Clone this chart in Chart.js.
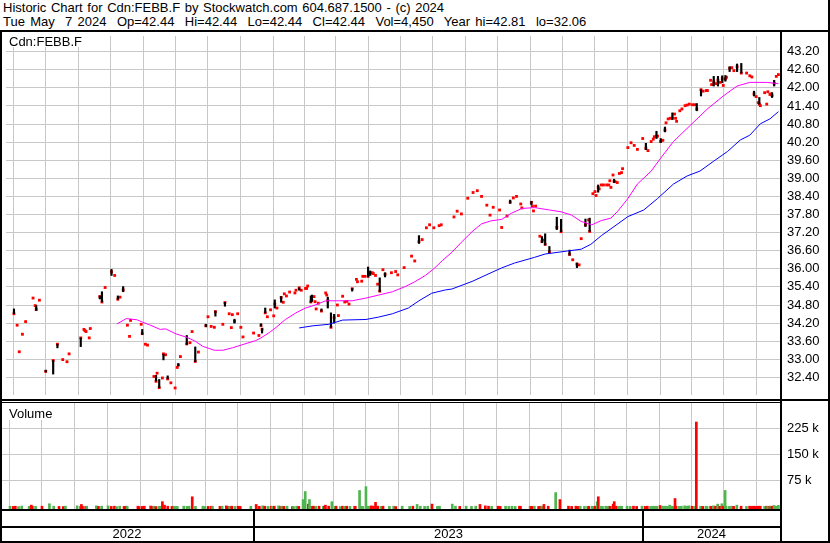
<!DOCTYPE html>
<html>
<head>
<meta charset="utf-8">
<title>Cdn:FEBB.F historic chart</title>
<script src="https://cdn.jsdelivr.net/npm/chart.js@4.4.1/dist/chart.umd.min.js"></script>
<style>
  body { margin: 0; width: 830px; height: 543px; position: relative; overflow: hidden; background: #fff;
         font-family: "Liberation Sans", Arial, sans-serif; font-size: 13px; color: #000; }
  canvas, .rule, .label { position: absolute; }
  .rule { background: #000; }
  .label { background: #fff; white-space: pre; }
</style>
</head>
<body>
<div class="label" style="left:3px;top:1px;line-height:14px;background:none;word-spacing:1px">Historic Chart for Cdn:FEBB.F by Stockwatch.com 604.687.1500 - (c) 2024</div>
<div class="label" style="left:3px;top:15px;line-height:14px;background:none;word-spacing:1.6px">Tue May  7 2024  Op=42.44  Hi=42.44  Lo=42.44  Cl=42.44  Vol=4,450  Year hi=42.81  lo=32.06</div>

<canvas id="price" width="826" height="367" style="left:2px;top:32px"></canvas>
<canvas id="volume" width="826" height="140" style="left:2px;top:403px"></canvas>

<div class="label" style="left:2px;top:32px;width:77px;height:15px;padding-left:7px;line-height:19px">Cdn:FEBB.F</div>
<div class="label" style="left:2px;top:403px;width:47px;height:17px;padding-left:7px;line-height:22px">Volume</div>

<div class="rule" style="left:0;top:30px;width:830px;height:2px"></div>
<div class="rule" style="left:0;top:30px;width:2px;height:513px"></div>
<div class="rule" style="left:828px;top:0;width:2px;height:543px"></div>
<div class="rule" style="left:780px;top:30px;width:2px;height:513px"></div>
<div class="rule" style="left:0;top:399px;width:830px;height:2px"></div>
<div class="rule" style="left:0;top:402px;width:780px;height:1px"></div>
<div class="rule" style="left:0;top:509px;width:782px;height:2px"></div>
<div class="rule" style="left:0;top:526px;width:782px;height:2px"></div>
<div class="rule" style="left:0;top:541px;width:830px;height:2px"></div>

<script>
// days are counted from 1 Jan 2022
const day = [
  136,139,141,144,147,154,156,157,160,166,
  173,177,182,186,188,199,202,203,204,207,
  208,217,219,222,228,231,234,236,239,243,
  245,246,256,257,260,262,268,270,271,273,
  276,277,279,281,284,288,290,291,293,299,
  302,304,307,310,317,319,322,325,326,333,
  335,339,341,342,344,347,350,352,362,367,
  369,370,373,375,378,381,382,384,388,390,
  391,393,396,401,402,405,407,411,412,413,
  416,417,419,420,421,423,426,430,431,432,
  435,438,441,442,446,448,450,452,455,459,
  460,464,465,467,470,472,474,475,477,479,
  481,484,486,492,496,498,504,511,514,518,
  521,525,528,532,537,539,551,554,558,564,
  569,573,577,582,585,588,594,596,601,604,
  607,610,614,615,624,625,626,628,632,634,
  635,637,641,648,652,660,663,667,669,671,
  675,678,679,682,684,685,687,688,690,692,
  695,697,698,699,701,702,703,705,707,709,
  710,715,718,721,724,729,732,734,737,739,
  740,742,743,746,748,750,751,753,755,757,
  759,760,761,764,766,769,771,773,776,778,
  780,784,786,789,790,793,794,796,798,800,
  802,804,805,807,808,811,813,815,818,822,
  827,830,832,834,836,838,839,840,844,846,
  847,849,850,851,853,855,857
];
const close = [
  34.51,34.13,33.25,33.83,34.25,35.03,34.78,34.65,34.96,32.60,
  32.96,33.50,32.99,32.92,33.18,33.71,33.99,33.95,33.92,33.71,
  34.02,35.08,34.90,35.38,35.90,35.78,34.99,35.06,35.30,34.13,
  33.76,34.29,34.16,33.85,33.50,33.47,32.43,32.27,32.54,32.06,
  32.38,33.18,33.15,32.35,32.22,32.05,32.73,32.81,33.09,33.51,
  33.55,33.92,32.93,33.24,34.11,34.41,34.09,34.06,34.58,34.16,
  34.88,34.51,34.05,34.48,34.26,34.51,34.06,33.74,33.87,33.79,
  34.12,34.00,34.54,34.41,34.64,34.44,34.83,34.70,35.05,34.89,
  35.17,35.10,35.23,35.20,35.29,35.37,35.29,35.35,35.35,35.43,
  34.90,34.95,35.08,34.91,34.67,34.86,34.60,35.20,35.13,34.94,
  34.06,34.38,34.80,34.45,35.09,34.90,34.92,34.83,35.34,35.65,
  35.57,35.59,35.75,35.75,35.75,35.85,35.87,35.84,35.78,35.49,
  35.26,35.97,35.82,35.87,35.91,35.80,36.04,36.42,36.26,36.90,
  36.97,37.36,37.46,37.36,37.43,37.46,37.72,37.91,37.82,38.34,
  38.53,38.59,38.40,38.11,37.78,38.04,37.95,37.37,37.75,38.21,
  38.35,38.40,38.15,38.02,38.20,38.08,37.92,38.08,37.08,36.90,
  36.95,36.81,36.56,37.37,37.23,36.48,36.30,36.16,36.13,37.00,
  37.46,37.62,37.24,38.49,38.56,38.43,38.70,38.65,38.78,38.78,
  38.78,38.78,38.92,38.70,39.11,38.90,38.89,38.86,39.16,39.19,
  39.32,40.02,40.18,40.09,39.96,40.32,40.00,39.92,40.22,40.30,
  40.38,40.40,40.40,40.22,40.26,40.60,40.84,40.97,40.99,41.00,
  41.13,40.99,40.89,41.24,41.30,41.41,41.43,41.46,41.44,41.44,
  41.30,41.94,41.89,41.91,41.91,42.25,42.11,42.20,42.14,42.25,
  42.18,42.30,42.08,42.30,42.35,42.65,42.67,42.57,42.70,42.49,
  42.49,42.40,42.36,41.80,41.71,41.51,41.46,41.41,41.84,41.46,
  41.87,41.78,41.80,41.75,42.15,42.38,42.44
];
// volume in thousands of shares, one per trading day above
const volK = [
  2,1.5,2,1,2.5,1.5,5,2,1.5,2,
  9,2,1.5,1,2,3,1.5,7,2,1.5,
  2,3,1.5,2,3,1.5,2,1,2,1.5,
  2,1.5,2,1,1.5,2,2.5,1.5,2,1,
  1.5,2,15,5,2,1.5,2,1,1.5,2,
  1.5,2,29,1.5,2,1,1.5,2,1,1.5,
  2,3,1.5,1,2,1.5,2,1.5,2,7,
  2,1.5,3,2,1.5,2,1,2,3,1.5,
  2,1.5,2,1,1.5,2,1.5,21,2,44,
  8,21,2,1.5,2,1.5,2,1.5,2,5,
  2,15,1.5,2,1,2,1.5,2,1.5,2,
  1.5,47,2,1.5,58,2,1.5,3,2,13,
  2,1.5,2,1.5,2,1,2,1.5,2,7,
  2,1.5,2,8,1.5,2,8,2,1.5,2,
  1.5,2,7,3,2,1.5,2,1.5,2,1.5,
  2,1.5,2,1.5,2,1,1.5,2,1.5,2,
  1.5,7,2,41,21,2,1.5,2,1.5,2,
  1.5,2,1.5,2,1.5,2,15,29,2,1.5,
  2,1.5,2,1.5,2,8,15,2,1.5,2,
  1.5,2,1.5,2,1.5,2,1.5,2,1.5,2,
  1.5,2,1.5,4,2,1.5,2,1.5,5,2,
  1.5,24,2,1.5,2,3,2,3,2,1.5,
  243,2,1.5,2,1.5,2,1.5,3,2,8,
  2,9,1.5,47,2,1.5,2,1.5,5,2,
  1.5,2,1.5,2,1.5,2,1.5,2,1.5,2,
  1.5,2,1.5,2,4,2,4.45
];
// days with a visible high-low range
const rangeDay = [136,157,166,173,177,199,217,219,228,234,239,257,270,273,277,281,291,299,307,317,
  326,335,344,369,370,373,382,388,405,416,417,426,432,435,438,455,470,472,481,486,
  518,604,624,634,637,641,648,652,660,667,675,679,687,702,732,742,746,750,757,780,
  784,796,800,804,807,811,818,822,834,839,851,853];
const rangeLow = [34.51,34.62,32.58,32.51,33.38,33.42,35.00,34.90,35.78,34.99,35.24,33.82,32.28,32.06,32.98,32.35,32.78,33.49,32.92,34.08,
  34.43,34.76,34.20,34.10,33.87,34.54,34.70,34.89,35.29,34.89,34.92,34.60,34.70,34.06,34.20,35.26,35.73,35.78,35.24,35.73,
  36.84,38.17,38.13,36.87,36.79,36.54,37.30,37.23,36.45,36.04,37.40,37.24,38.54,38.86,39.95,40.32,40.19,40.54,40.95,41.24,
  41.73,42.06,42.06,42.17,42.22,42.54,42.54,42.49,41.73,41.46,41.68,42.06];
const rangeHigh = [34.67,34.78,32.64,32.96,33.50,33.71,35.10,35.24,35.98,35.10,35.41,33.99,32.47,32.33,33.17,32.45,32.86,33.79,33.41,34.16,
  34.60,34.89,34.33,34.18,34.02,34.70,34.97,35.08,35.37,35.10,35.13,34.67,35.06,34.54,34.49,35.35,36.06,35.93,35.70,35.87,
  37.10,38.28,38.24,37.07,37.16,36.74,37.71,37.64,36.62,36.19,37.65,37.68,38.78,38.97,40.16,40.56,40.32,40.70,41.17,41.48,
  41.94,42.38,42.38,42.40,42.41,42.70,42.79,42.81,41.89,41.68,41.84,42.25];
// moving averages
const ma50Day = [233,242,252,256,264,274,279,289,299,307,314,325,333,342,352,364,369,377,383,392,
  402,411,421,430,443,455,468,480,493,505,514,524,532,540,549,558,568,577,586,596,
  605,615,627,641,652,662,671,681,690,699,705,715,724,737,746,758,774,790,805,818,830,846,857];
const ma50 = [34.17,34.35,34.31,34.25,34.14,33.99,34.01,33.84,33.73,33.60,33.43,33.30,33.30,33.38,33.49,33.62,33.71,33.89,34.05,34.32,
  34.54,34.70,34.81,34.94,34.94,34.94,35.03,35.13,35.24,35.41,35.57,35.78,36.00,36.27,36.55,36.88,37.23,37.49,37.59,37.64,
  37.84,38.00,38.03,37.95,37.89,37.78,37.57,37.46,37.60,37.68,37.89,38.33,38.81,39.24,39.67,40.22,40.76,41.30,41.73,42.06,42.18,42.18,42.14];
const ma200Day = [405,418,433,446,468,480,493,508,518,530,543,549,568,586,596,608,627,637,658,671,
  680,690,702,715,730,743,758,771,783,796,809,821,830,840,849,857];
const ma200 = [34.04,34.11,34.16,34.30,34.32,34.40,34.51,34.70,34.94,35.19,35.30,35.33,35.58,35.87,36.03,36.19,36.38,36.49,36.59,36.65,
  36.81,37.10,37.40,37.73,37.95,38.33,38.81,39.08,39.24,39.57,39.89,40.27,40.43,40.81,40.97,41.21];

const priceTicks = [43.2,42.6,42.0,41.4,40.8,40.2,39.6,39.0,38.4,37.8,37.2,36.6,36.0,35.4,34.8,34.2,33.6,33.0,32.4];
const volTicks = [75, 150, 225];
const years = [2022, 2023, 2024];

const dayOf = (y, m, d) => (Date.UTC(y, m - 1, d) - Date.UTC(2022, 0, 1)) / 864e5;
const monthDays = [];
for (let i = 0; i < 24; i++) monthDays.push(dayOf(2022, 6 + i, 1));
const yearStarts = [dayOf(2023, 1, 1), dayOf(2024, 1, 1)];

const FONT = { family: '"Liberation Sans", Arial, sans-serif', size: 13 };
const GRID = '#c8c8c8';
const X_MIN = 128.5, X_MAX = 858.5;

// no room reserved for half labels: the plot fills the canvas exactly
function noPad(s) {
  s.paddingTop = 0; s.paddingBottom = 0; s.paddingLeft = 0; s.paddingRight = 0;
}

function xScale(h) {
  return {
    type: 'linear', min: X_MIN, max: X_MAX, offset: false,
    afterBuildTicks: s => { s.ticks = monthDays.map(v => ({ value: v })); },
    afterFit: s => { s.height = h; noPad(s); },
    ticks: { display: false },
    grid: { color: GRID, drawTicks: false },
    border: { display: false }
  };
}

function yScale(min, max, ticks, fmt) {
  return {
    position: 'right', min: min, max: max,
    afterBuildTicks: s => { s.ticks = ticks.map(v => ({ value: v })); },
    afterFit: s => { s.width = 48; noPad(s); },
    ticks: { autoSkip: false, padding: 7, crossAlign: 'near', color: '#000', font: FONT, callback: fmt },
    grid: { color: GRID, drawTicks: false },
    border: { display: false }
  };
}

new Chart(document.getElementById('price'), {
  type: 'scatter',
  data: {
    datasets: [
      { type: 'line', data: ma50Day.map((d, i) => ({ x: d, y: ma50[i] })), showLine: true,
        borderColor: '#ff00ff', borderWidth: 1, pointRadius: 0, tension: 0 },
      { type: 'line', data: ma200Day.map((d, i) => ({ x: d, y: ma200[i] })), showLine: true,
        borderColor: '#0000ff', borderWidth: 1, pointRadius: 0, tension: 0 },
      { type: 'bar', data: rangeDay.map((d, i) => ({ x: d, y: [rangeLow[i], rangeHigh[i]] })),
        backgroundColor: '#000', barThickness: 1.5 },
      { type: 'scatter', data: day.map((d, i) => ({ x: d, y: close[i] })),
        pointStyle: 'rect', pointRadius: 2, borderWidth: 0, backgroundColor: '#ff0000' }
    ]
  },
  options: {
    responsive: false, animation: false, events: [],
    layout: { padding: 0 },
    plugins: { legend: { display: false }, tooltip: { enabled: false } },
    scales: {
      x: xScale(0),
      y: yScale(31.816, 43.719, priceTicks, v => v.toFixed(2))
    }
  }
});

const yearBand = {
  id: 'yearBand',
  afterDraw(chart) {
    const { ctx, scales: { x } } = chart;
    const edges = [x.left - 2, ...yearStarts.map(d => x.getPixelForValue(d)), x.right];
    ctx.save();
    ctx.fillStyle = '#000';
    edges.slice(1, -1).forEach(px => ctx.fillRect(Math.round(px) - 1, 107, 2, 32));
    ctx.font = '13px "Liberation Sans", Arial, sans-serif';
    ctx.textAlign = 'center';
    ctx.textBaseline = 'middle';
    years.forEach((yr, i) => ctx.fillText(String(yr), (edges[i] + edges[i + 1]) / 2, 131));
    ctx.restore();
  }
};

new Chart(document.getElementById('volume'), {
  type: 'bar',
  data: {
    datasets: [{
      data: day.map((d, i) => ({ x: d, y: volK[i] })),
      base: -6,
      barThickness: 2,
      backgroundColor: c => (c.dataIndex > 0 && close[c.dataIndex] < close[c.dataIndex - 1]) ? '#ff0000' : '#50b450'
    }]
  },
  options: {
    responsive: false, animation: false, events: [],
    layout: { padding: 0 },
    plugins: { legend: { display: false }, tooltip: { enabled: false } },
    scales: {
      x: xScale(34),
      y: yScale(-6, 297.4, volTicks, v => v + ' k')
    }
  },
  plugins: [yearBand]
});
</script>
</body>
</html>
